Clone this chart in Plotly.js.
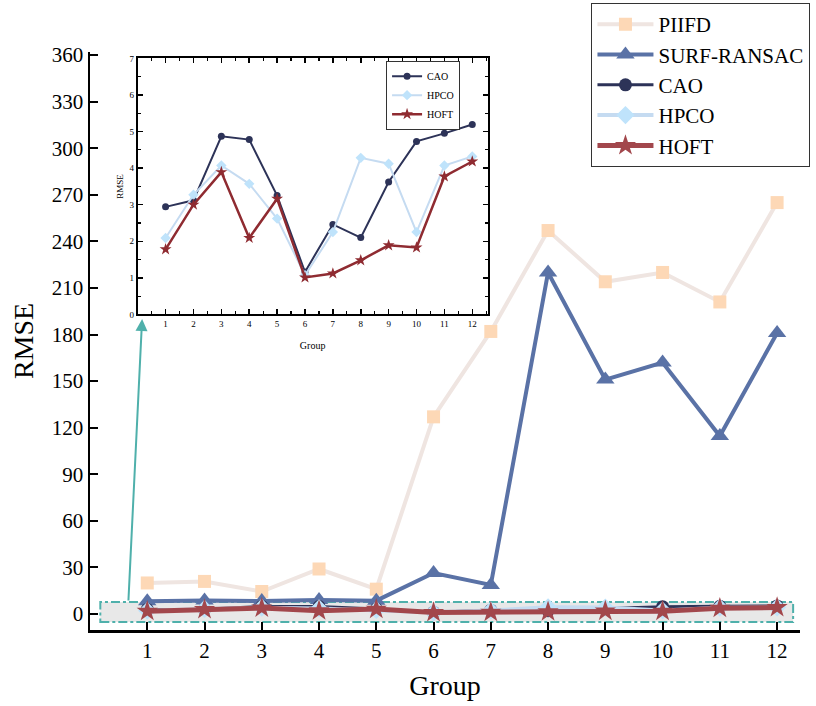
<!DOCTYPE html>
<html>
<head>
<meta charset="utf-8">
<script src="https://cdn.plot.ly/plotly-3.0.1.min.js"></script>
<style>
  html, body { margin: 0; padding: 0; background: #ffffff; }
  #chart { width: 816px; height: 706px; }
</style>
</head>
<body>
<div id="chart"></div>
<script>
// Groups and RMSE per method
const groups = [1, 2, 3, 4, 5, 6, 7, 8, 9, 10, 11, 12];
const piifd = [20, 21, 14.5, 29, 16, 127, 182, 247, 214, 220, 201, 265];
const surfRansac = [8.2, 8.7, 8.3, 9.1, 8.6, 26.4, 18.7, 220, 151, 162, 114.6, 181];
const cao = [2.94, 3.12, 4.87, 4.78, 3.25, 1.16, 2.46, 2.10, 3.62, 4.73, 4.95, 5.19];
const hpco = [2.09, 3.27, 4.07, 3.57, 2.62, 1.07, 2.25, 4.28, 4.12, 2.25, 4.07, 4.32];
const hoft = [1.78, 3.00, 3.89, 2.09, 3.16, 1.01, 1.12, 1.48, 1.89, 1.83, 3.77, 4.18];

const yTicks = [0, 30, 60, 90, 120, 150, 180, 210, 240, 270, 300, 330, 360];
const insetYTicks = [0, 1, 2, 3, 4, 5, 6, 7];

const serif = "Liberation Serif, Times New Roman, serif";

const C = {
  piifdLine: "#efe5e1", piifdMark: "#fdd8b6",
  surf: "#5a72a6",
  cao: "#2d3358",
  hpcoLine: "#c5dbf1", hpcoMark: "#bfe3fb",
  hoft: "#8f2b31", hoftMain: "#a2474c",
  teal: "#4fb0ab"
};

const traces = [
  // main panel
  { x: groups, y: piifd, name: "PIIFD", mode: "lines+markers", legend: "legend",
    line: { color: C.piifdLine, width: 4 }, marker: { symbol: "square", size: 13, color: C.piifdMark } },
  { x: groups, y: surfRansac, name: "SURF-RANSAC", mode: "lines+markers", legend: "legend",
    line: { color: C.surf, width: 4 }, marker: { symbol: "triangle-up", size: 16, color: C.surf } },
  { x: groups, y: cao, name: "CAO", mode: "lines+markers", legend: "legend",
    line: { color: C.cao, width: 3 }, marker: { symbol: "circle", size: 13, color: C.cao } },
  { x: groups, y: hpco, name: "HPCO", mode: "lines+markers", legend: "legend",
    line: { color: C.hpcoLine, width: 4 }, marker: { symbol: "diamond", size: 14, color: C.hpcoMark } },
  { x: groups, y: hoft, name: "HOFT", mode: "lines+markers", legend: "legend",
    line: { color: C.hoftMain, width: 5 }, marker: { symbol: "star", size: 16, color: C.hoftMain } },
  // zoomed inset of the three low-error methods
  { x: groups, y: cao, name: "CAO", mode: "lines+markers", xaxis: "x2", yaxis: "y2", legend: "legend2",
    line: { color: C.cao, width: 2 }, marker: { symbol: "circle", size: 7, color: C.cao } },
  { x: groups, y: hpco, name: "HPCO", mode: "lines+markers", xaxis: "x2", yaxis: "y2", legend: "legend2",
    line: { color: C.hpcoLine, width: 2 }, marker: { symbol: "diamond", size: 8, color: C.hpcoMark } },
  { x: groups, y: hoft, name: "HOFT", mode: "lines+markers", xaxis: "x2", yaxis: "y2", legend: "legend2",
    line: { color: C.hoft, width: 2.5 }, marker: { symbol: "star", size: 9, color: C.hoft } }
];

const layout = {
  width: 816, height: 706,
  margin: { l: 90, r: 16, t: 52, b: 76, autoexpand: false },
  paper_bgcolor: "#ffffff", plot_bgcolor: "#ffffff",
  font: { family: serif, color: "#000000" },
  showlegend: true,
  xaxis: {
    range: [0, 12.4], tickvals: groups, ticktext: groups.map(String),
    showgrid: false, zeroline: false, showline: true, linecolor: "#000", linewidth: 2.5,
    ticks: "inside", ticklen: 8, tickwidth: 2, tickcolor: "#000",
    tickfont: { family: serif, size: 21 },
    title: { text: "Group", font: { family: serif, size: 28 }, standoff: 14 }
  },
  yaxis: {
    range: [-10.3, 362], tickvals: yTicks,
    showgrid: false, zeroline: false, showline: true, linecolor: "#000", linewidth: 2.5,
    ticks: "inside", ticklen: 8, tickwidth: 2, tickcolor: "#000",
    tickfont: { family: serif, size: 21 },
    title: { text: "RMSE", font: { family: serif, size: 28 }, standoff: 10 }
  },
  xaxis2: {
    domain: [0.0672, 0.560], anchor: "y2",
    range: [0, 12.55], tickvals: groups,
    showgrid: false, zeroline: false, showline: true, mirror: "ticks", linecolor: "#000", linewidth: 2,
    ticks: "inside", ticklen: 5, tickwidth: 1.5, tickcolor: "#000",
    minor: { dtick: 0.5, ticks: "inside", ticklen: 3, tickwidth: 1.2, tickcolor: "#000", showgrid: false },
    tickfont: { family: serif, size: 9 },
    title: { text: "Group", font: { family: serif, size: 10 }, standoff: 14 }
  },
  yaxis2: {
    domain: [0.546, 0.989], anchor: "x2",
    range: [0, 7], tickvals: insetYTicks,
    showgrid: false, zeroline: false, showline: true, mirror: "ticks", linecolor: "#000", linewidth: 2,
    ticks: "inside", ticklen: 5, tickwidth: 1.5, tickcolor: "#000",
    minor: { dtick: 0.5, ticks: "inside", ticklen: 3, tickwidth: 1.2, tickcolor: "#000", showgrid: false },
    tickfont: { family: serif, size: 9 },
    title: { text: "RMSE", font: { family: serif, size: 9 }, standoff: 4 }
  },
  legend: {
    x: 0.706, y: 1.085, xanchor: "left", yanchor: "top",
    bgcolor: "#ffffff", bordercolor: "#333", borderwidth: 1.2,
    font: { family: serif, size: 21 }, itemwidth: 56, tracegroupgap: 0
  },
  legend2: {
    x: 0.417, y: 0.985, xanchor: "left", yanchor: "top",
    bgcolor: "#ffffff", bordercolor: "#333", borderwidth: 1,
    font: { family: serif, size: 10 }, itemwidth: 24, tracegroupgap: 0
  },
  shapes: [
    // highlighted low-RMSE band that the inset magnifies
    { type: "rect", xref: "x", yref: "y", x0: 0.18, x1: 12.28, y0: -5.2, y1: 7.7,
      fillcolor: "#e8e8e8", line: { color: C.teal, width: 2, dash: "dashdot" }, layer: "below" },
    // white backing behind the inset panel
    { type: "rect", xref: "paper", yref: "paper", x0: 0.0672, x1: 0.560, y0: 0.546, y1: 0.989,
      fillcolor: "#ffffff", line: { width: 0 }, layer: "below" }
  ],
  annotations: [
    { xref: "x", yref: "y", axref: "x", ayref: "y",
      x: 0.91, y: 190, ax: 0.67, ay: 7.7, text: "", showarrow: true,
      arrowhead: 2, arrowsize: 1.2, arrowwidth: 2, arrowcolor: C.teal }
  ]
};

Plotly.newPlot("chart", traces, layout, { displayModeBar: false, staticPlot: true });
</script>
</body>
</html>
